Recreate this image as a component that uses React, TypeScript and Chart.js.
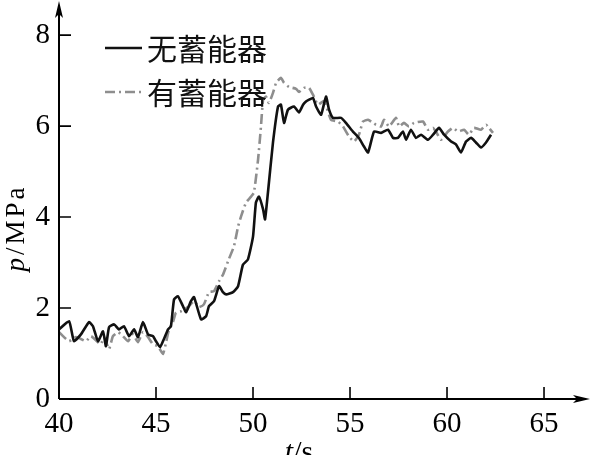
import React, { useEffect, useRef } from 'react';
import { Chart, registerables } from 'chart.js';

Chart.register(...registerables);

const seriesLabels = ['无蓄能器', '有蓄能器'];
const xTicks = [40, 45, 50, 55, 60, 65];
const yTicks = [0, 2, 4, 6, 8];
const xAxisMin = 40;
const xAxisMax = 67.37;
const yAxisMin = 0;
const yAxisMax = 8.75;

// 无蓄能器 (solid black)
const timeWithout = [
  40.0, 40.52, 40.77, 41.13, 41.55, 41.75, 42.01, 42.27, 42.42, 42.58, 42.84, 43.09, 43.35, 43.61, 43.87,
  44.07, 44.33, 44.59, 44.85, 45.0, 45.21, 45.41, 45.62, 45.77, 45.93, 46.13, 46.39, 46.55, 46.8, 46.96,
  47.32, 47.58, 47.73, 47.99, 48.25, 48.45, 48.61, 48.97, 49.23, 49.48, 49.74, 50.0, 50.15, 50.31, 50.52,
  50.62, 50.77, 51.03, 51.29, 51.44, 51.6, 51.8, 52.11, 52.37, 52.58, 52.73, 52.89, 53.09, 53.25, 53.51,
  53.76, 53.92, 54.12, 54.54, 54.79, 55.15, 55.46, 55.72, 55.93, 56.24, 56.6, 56.96, 57.22, 57.47, 57.73,
  57.89, 58.14, 58.4, 58.66, 59.02, 59.28, 59.59, 59.85, 60.21, 60.46, 60.72, 60.98, 61.24, 61.49, 61.75,
  62.01, 62.27,
];
const pressureWithout = [
  1.53, 1.71, 1.27, 1.42, 1.69, 1.6, 1.27, 1.49, 1.16, 1.58, 1.64, 1.53, 1.6, 1.38, 1.53,
  1.36, 1.69, 1.42, 1.38, 1.27, 1.14, 1.32, 1.53, 1.6, 2.19, 2.26, 2.04, 1.91, 2.15, 2.24,
  1.75, 1.82, 2.04, 2.15, 2.48, 2.35, 2.3, 2.35, 2.48, 2.95, 3.07, 3.57, 4.32, 4.45, 4.17,
  3.95, 4.54, 5.64, 6.43, 6.47, 6.07, 6.36, 6.43, 6.3, 6.47, 6.54, 6.58, 6.62, 6.43, 6.25,
  6.65, 6.36, 6.18, 6.18, 6.07, 5.88, 5.74, 5.55, 5.42, 5.88, 5.85, 5.92, 5.74, 5.74, 5.88,
  5.7, 5.92, 5.74, 5.81, 5.7, 5.81, 5.96, 5.81, 5.66, 5.6, 5.42, 5.66, 5.74, 5.64, 5.53,
  5.64, 5.81,
];

// 有蓄能器 (grey dash-dot)
const timeWith = [
  40.0, 40.26, 40.52, 40.88, 41.13, 41.39, 41.65, 42.01, 42.16, 42.32, 42.58, 42.78, 43.04, 43.3, 43.56,
  43.81, 44.07, 44.33, 44.59, 44.85, 45.1, 45.36, 45.52, 45.67, 45.88, 46.03, 46.29, 46.65, 46.96, 47.22,
  47.47, 47.73, 47.99, 48.25, 48.45, 48.76, 49.02, 49.23, 49.38, 49.64, 49.9, 50.05, 50.26, 50.41, 50.52,
  50.67, 50.82, 51.03, 51.19, 51.44, 51.6, 51.86, 52.22, 52.37, 52.63, 52.89, 53.09, 53.35, 53.66, 54.02,
  54.38, 54.64, 54.95, 55.21, 55.46, 55.67, 55.93, 56.19, 56.34, 56.6, 56.75, 57.01, 57.37, 57.53, 57.78,
  58.04, 58.3, 58.76, 59.02, 59.28, 59.43, 59.69, 60.05, 60.31, 60.57, 60.88, 61.13, 61.39, 61.75, 62.01,
  62.16, 62.37,
];
const pressureWith = [
  1.47, 1.36, 1.27, 1.36, 1.32, 1.27, 1.38, 1.25, 1.2, 1.36, 1.1, 1.38, 1.47, 1.38, 1.27,
  1.42, 1.25, 1.47, 1.36, 1.2, 1.16, 0.99, 1.25, 1.53, 1.7, 1.9, 1.93, 2.02, 2.15, 2.02,
  2.08, 2.35, 2.37, 2.59, 2.73, 3.08, 3.36, 3.79, 4.01, 4.32, 4.45, 4.54, 5.26, 5.99, 6.58,
  6.65, 6.51, 6.73, 6.95, 7.06, 6.95, 6.86, 6.82, 6.75, 6.84, 6.84, 6.69, 6.47, 6.55, 6.14,
  6.1, 5.99, 5.77, 5.66, 5.81, 6.1, 6.14, 6.07, 6.03, 5.99, 6.14, 5.99, 6.18, 5.99, 6.07,
  5.99, 6.07, 6.1, 5.92, 5.96, 5.88, 5.7, 5.88, 5.96, 5.88, 5.92, 5.81, 5.96, 5.92, 6.03,
  5.96, 5.85,
];

const BLACK = '#111111';
const GREY = '#8e8e8e';
const GREY_DASH = [10, 4, 2, 4];
const SERIF = "'Liberation Serif', 'Times New Roman', serif";
const CJK = "'Noto Sans CJK SC', sans-serif";

const axesPlugin = {
  id: 'customAxes',
  afterDraw(chart: any) {
    const { ctx, chartArea, scales } = chart;
    const xs = scales.x;
    const ys = scales.y;
    const left = chartArea.left;
    const bottom = chartArea.bottom;
    ctx.save();
    ctx.strokeStyle = '#000';
    ctx.fillStyle = '#000';
    ctx.lineWidth = 2;
    ctx.setLineDash([]);
    // axis lines
    ctx.beginPath();
    ctx.moveTo(left, bottom);
    ctx.lineTo(left, chartArea.top + 4);
    ctx.moveTo(left, bottom);
    ctx.lineTo(chartArea.right - 4, bottom);
    ctx.stroke();
    // arrows
    const tipY = chartArea.top;
    ctx.beginPath();
    ctx.moveTo(left, tipY);
    ctx.lineTo(left - 4, tipY + 17);
    ctx.lineTo(left, tipY + 13);
    ctx.lineTo(left + 4, tipY + 17);
    ctx.closePath();
    ctx.fill();
    const tipX = chartArea.right;
    ctx.beginPath();
    ctx.moveTo(tipX, bottom);
    ctx.lineTo(tipX - 17, bottom - 4);
    ctx.lineTo(tipX - 13, bottom);
    ctx.lineTo(tipX - 17, bottom + 4);
    ctx.closePath();
    ctx.fill();
    // inner ticks
    ctx.lineWidth = 1.6;
    ctx.beginPath();
    yTicks.forEach((v) => {
      if (v === yAxisMin) return;
      const y = ys.getPixelForValue(v);
      ctx.moveTo(left, y);
      ctx.lineTo(left + 12, y);
    });
    xTicks.forEach((v) => {
      if (v === xAxisMin) return;
      const x = xs.getPixelForValue(v);
      ctx.moveTo(x, bottom);
      ctx.lineTo(x, bottom - 12);
    });
    ctx.stroke();

    // legend
    const legendRows = [
      { label: seriesLabels[0], color: BLACK, dash: [] as number[], y: 48 },
      { label: seriesLabels[1], color: GREY, dash: GREY_DASH, y: 92 },
    ];
    legendRows.forEach((r) => {
      ctx.strokeStyle = r.color;
      ctx.lineWidth = 2.5;
      ctx.setLineDash(r.dash);
      ctx.beginPath();
      ctx.moveTo(105, r.y);
      ctx.lineTo(142, r.y);
      ctx.stroke();
      ctx.setLineDash([]);
      ctx.fillStyle = '#111';
      ctx.font = `30px ${CJK}`;
      ctx.textAlign = 'left';
      ctx.textBaseline = 'middle';
      ctx.fillText(r.label, 147, r.y + 1);
    });

    // x title: t/s
    ctx.fillStyle = '#000';
    ctx.textBaseline = 'alphabetic';
    ctx.textAlign = 'left';
    ctx.font = `italic 30px ${SERIF}`;
    const tW = ctx.measureText('t').width;
    ctx.font = `30px ${SERIF}`;
    const sW = ctx.measureText('/s').width;
    const xStart = 299 - (tW + sW) / 2;
    ctx.font = `italic 30px ${SERIF}`;
    ctx.fillText('t', xStart, 461);
    ctx.font = `30px ${SERIF}`;
    ctx.fillText('/s', xStart + tW, 461);

    // y title: p/MPa
    ctx.save();
    ctx.translate(17, 228);
    ctx.rotate(-Math.PI / 2);
    (ctx as any).letterSpacing = '3px';
    ctx.textBaseline = 'middle';
    ctx.font = `italic 27px ${SERIF}`;
    const pW = ctx.measureText('p').width;
    ctx.font = `27px ${SERIF}`;
    const restW = ctx.measureText('/MPa').width;
    const yStart = -(pW + restW) / 2;
    ctx.font = `italic 27px ${SERIF}`;
    ctx.fillText('p', yStart, 0);
    ctx.font = `27px ${SERIF}`;
    ctx.fillText('/MPa', yStart + pW, 0);
    ctx.restore();

    ctx.restore();
  },
};

export default function App() {
  const canvasRef = useRef<HTMLCanvasElement | null>(null);

  useEffect(() => {
    const canvas = canvasRef.current;
    if (!canvas) return;
    const chart = new Chart(canvas, {
      type: 'line',
      data: {
        datasets: [
          {
            label: seriesLabels[0],
            data: timeWithout.map((t, i) => ({ x: t, y: pressureWithout[i] })),
            borderColor: BLACK,
            borderWidth: 2.6,
            pointRadius: 0,
            tension: 0.15,
            fill: false,
          },
          {
            label: seriesLabels[1],
            data: timeWith.map((t, i) => ({ x: t, y: pressureWith[i] })),
            borderColor: GREY,
            borderWidth: 2.6,
            borderDash: GREY_DASH,
            pointRadius: 0,
            tension: 0.15,
            fill: false,
          },
        ],
      },
      options: {
        responsive: false,
        animation: false,
        devicePixelRatio: 1,
        layout: { padding: { top: 1, right: 2, left: 0, bottom: 0 } },
        plugins: { legend: { display: false }, tooltip: { enabled: false } },
        scales: {
          x: {
            type: 'linear',
            min: xAxisMin,
            max: xAxisMax,
            grid: { display: false, drawTicks: false, tickLength: 0 },
            border: { display: false },
            ticks: {
              color: '#000',
              font: { family: SERIF, size: 29 },
              padding: 8,
              maxRotation: 0,
              autoSkip: false,
            },
            afterBuildTicks: (scale: any) => {
              scale.ticks = xTicks.map((v) => ({ value: v }));
            },
            afterFit: (scale: any) => {
              scale.height = 56;
              scale.paddingLeft = 0;
              scale.paddingRight = 0;
            },
          },
          y: {
            type: 'linear',
            min: yAxisMin,
            max: yAxisMax,
            grid: { display: false, drawTicks: false, tickLength: 0 },
            border: { display: false },
            ticks: {
              color: '#000',
              font: { family: SERIF, size: 29 },
              padding: 9,
              autoSkip: false,
            },
            afterBuildTicks: (scale: any) => {
              scale.ticks = yTicks.map((v) => ({ value: v }));
            },
            afterFit: (scale: any) => {
              scale.width = 59;
              scale.paddingTop = 0;
              scale.paddingBottom = 0;
            },
          },
        },
      },
      plugins: [axesPlugin],
    });
    return () => chart.destroy();
  }, []);

  return (
    <div style={{ position: 'fixed', left: 0, top: 0, width: 592, height: 455, background: '#fff' }}>
      <canvas ref={canvasRef} width={592} height={455} style={{ display: 'block' }} />
    </div>
  );
}
